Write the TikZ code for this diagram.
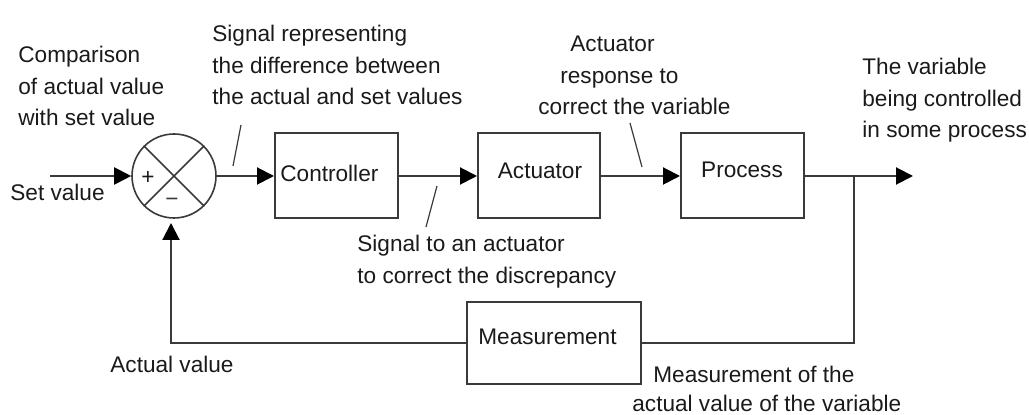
\documentclass[tikz,border=0pt]{standalone}
\usepackage{fontspec}
\setmainfont{Liberation Sans}
\usetikzlibrary{arrows.meta}
\definecolor{ink}{HTML}{1A1A1A}
\definecolor{linegray}{HTML}{3A3A3A}
% several lines of text, baseline taken from the first line
\newcommand\txtlines[1]{\begin{tabular}[t]{@{}l@{}}#1\end{tabular}}

\begin{document}
\begin{tikzpicture}[x=0.5pt,y=-0.5pt,
  font=\fontsize{11.3}{15.75}\selectfont, text=ink,
  block/.style={draw=linegray,line width=1pt,minimum width=61.5pt,minimum height=42.5pt,inner sep=0pt},
  sumnode/.style={circle,draw=linegray,line width=0.8pt,minimum size=42pt,inner sep=0pt},
  wire/.style={draw=linegray,line width=1pt},
  flow/.style={wire,-{Triangle[length=8.5pt,width=8.5pt,color=black]}},
  lead/.style={draw=linegray,line width=0.6pt},
  txt/.style={inner sep=0pt,anchor=base west}]

\useasboundingbox (0,0) rectangle (1029,415);

% blocks of the loop
\node[sumnode] (sum) at (174,176) {};
\node[block] (ctrl) at (336.5,176) {};
\node[block,minimum width=61pt] (act) at (539,176) {};
\node[block] (proc) at (742.5,176) {};
\node[block,minimum width=87pt,minimum height=41pt] (meas) at (554,343) {};

% block texts
\node[txt] (ctrltxt) at (280,182) {Controller};
\node[txt,anchor=base] (acttxt) at (540,179) {Actuator};
\node[txt,anchor=base] (proctxt) at (742,178) {Process};
\node[txt,anchor=base] (meastxt) at (547.5,345) {Measurement};

% comparator cross and signs
\draw[lead,line width=0.8pt] (sum.north west) -- (sum.south east)
                             (sum.north east) -- (sum.south west);
\node[inner sep=0pt] (plus) at (148,178) {+};
\node[inner sep=0pt,text=linegray] (minus) at (172,202) {−};

% signal path
\coordinate (setin) at (50,176);
\coordinate (branch) at (854,176);
\coordinate (out) at (913,176);
\coordinate (fbtip) at (171,223);
\draw[flow] (setin) -- (sum.west);
\draw[flow] (sum.east) -- (ctrl.west);
\draw[flow] (ctrl.east) -- (act.west);
\draw[flow] (act.east) -- (proc.west);
\draw[flow] (proc.east) -- (out);
\draw[wire] (branch) |- (meas.east);
\draw[flow] (meas.west) -| (fbtip);

% leader strokes
\coordinate (l1a) at (241,125); \coordinate (l1b) at (233,166);
\coordinate (l2a) at (437,186); \coordinate (l2b) at (426,227);
\coordinate (l3a) at (630,123); \coordinate (l3b) at (642,167);
\draw[lead] (l1a) -- (l1b);
\draw[lead] (l2a) -- (l2b);
\draw[lead] (l3a) -- (l3b);

% annotations
\node[txt] (cmp) at (18,63) {\txtlines{Comparison\\of actual value\\with set value}};
\node[txt] (diff) at (212,42) {\txtlines{Signal representing\\the difference between\\the actual and set values}};
\node[txt] (resp) at (538,52) {\txtlines{\hspace{16pt}Actuator\\\hspace{11pt}response to\\correct the variable}};
\node[txt] (var) at (862,75) {\txtlines{The variable\\being controlled\\in some process}};
\node[txt] (setlbl) at (10,201) {Set value};
\node[txt] (sig) at (357,252) {\txtlines{Signal to an actuator\\to correct the discrepancy}};
\node[txt] (actual) at (110,373) {Actual value};
\node[txt] (measlbl) at (653,383) {Measurement of the};
\node[txt] (measlbl2) at (632,412) {actual value of the variable};
\end{tikzpicture}
\end{document}
